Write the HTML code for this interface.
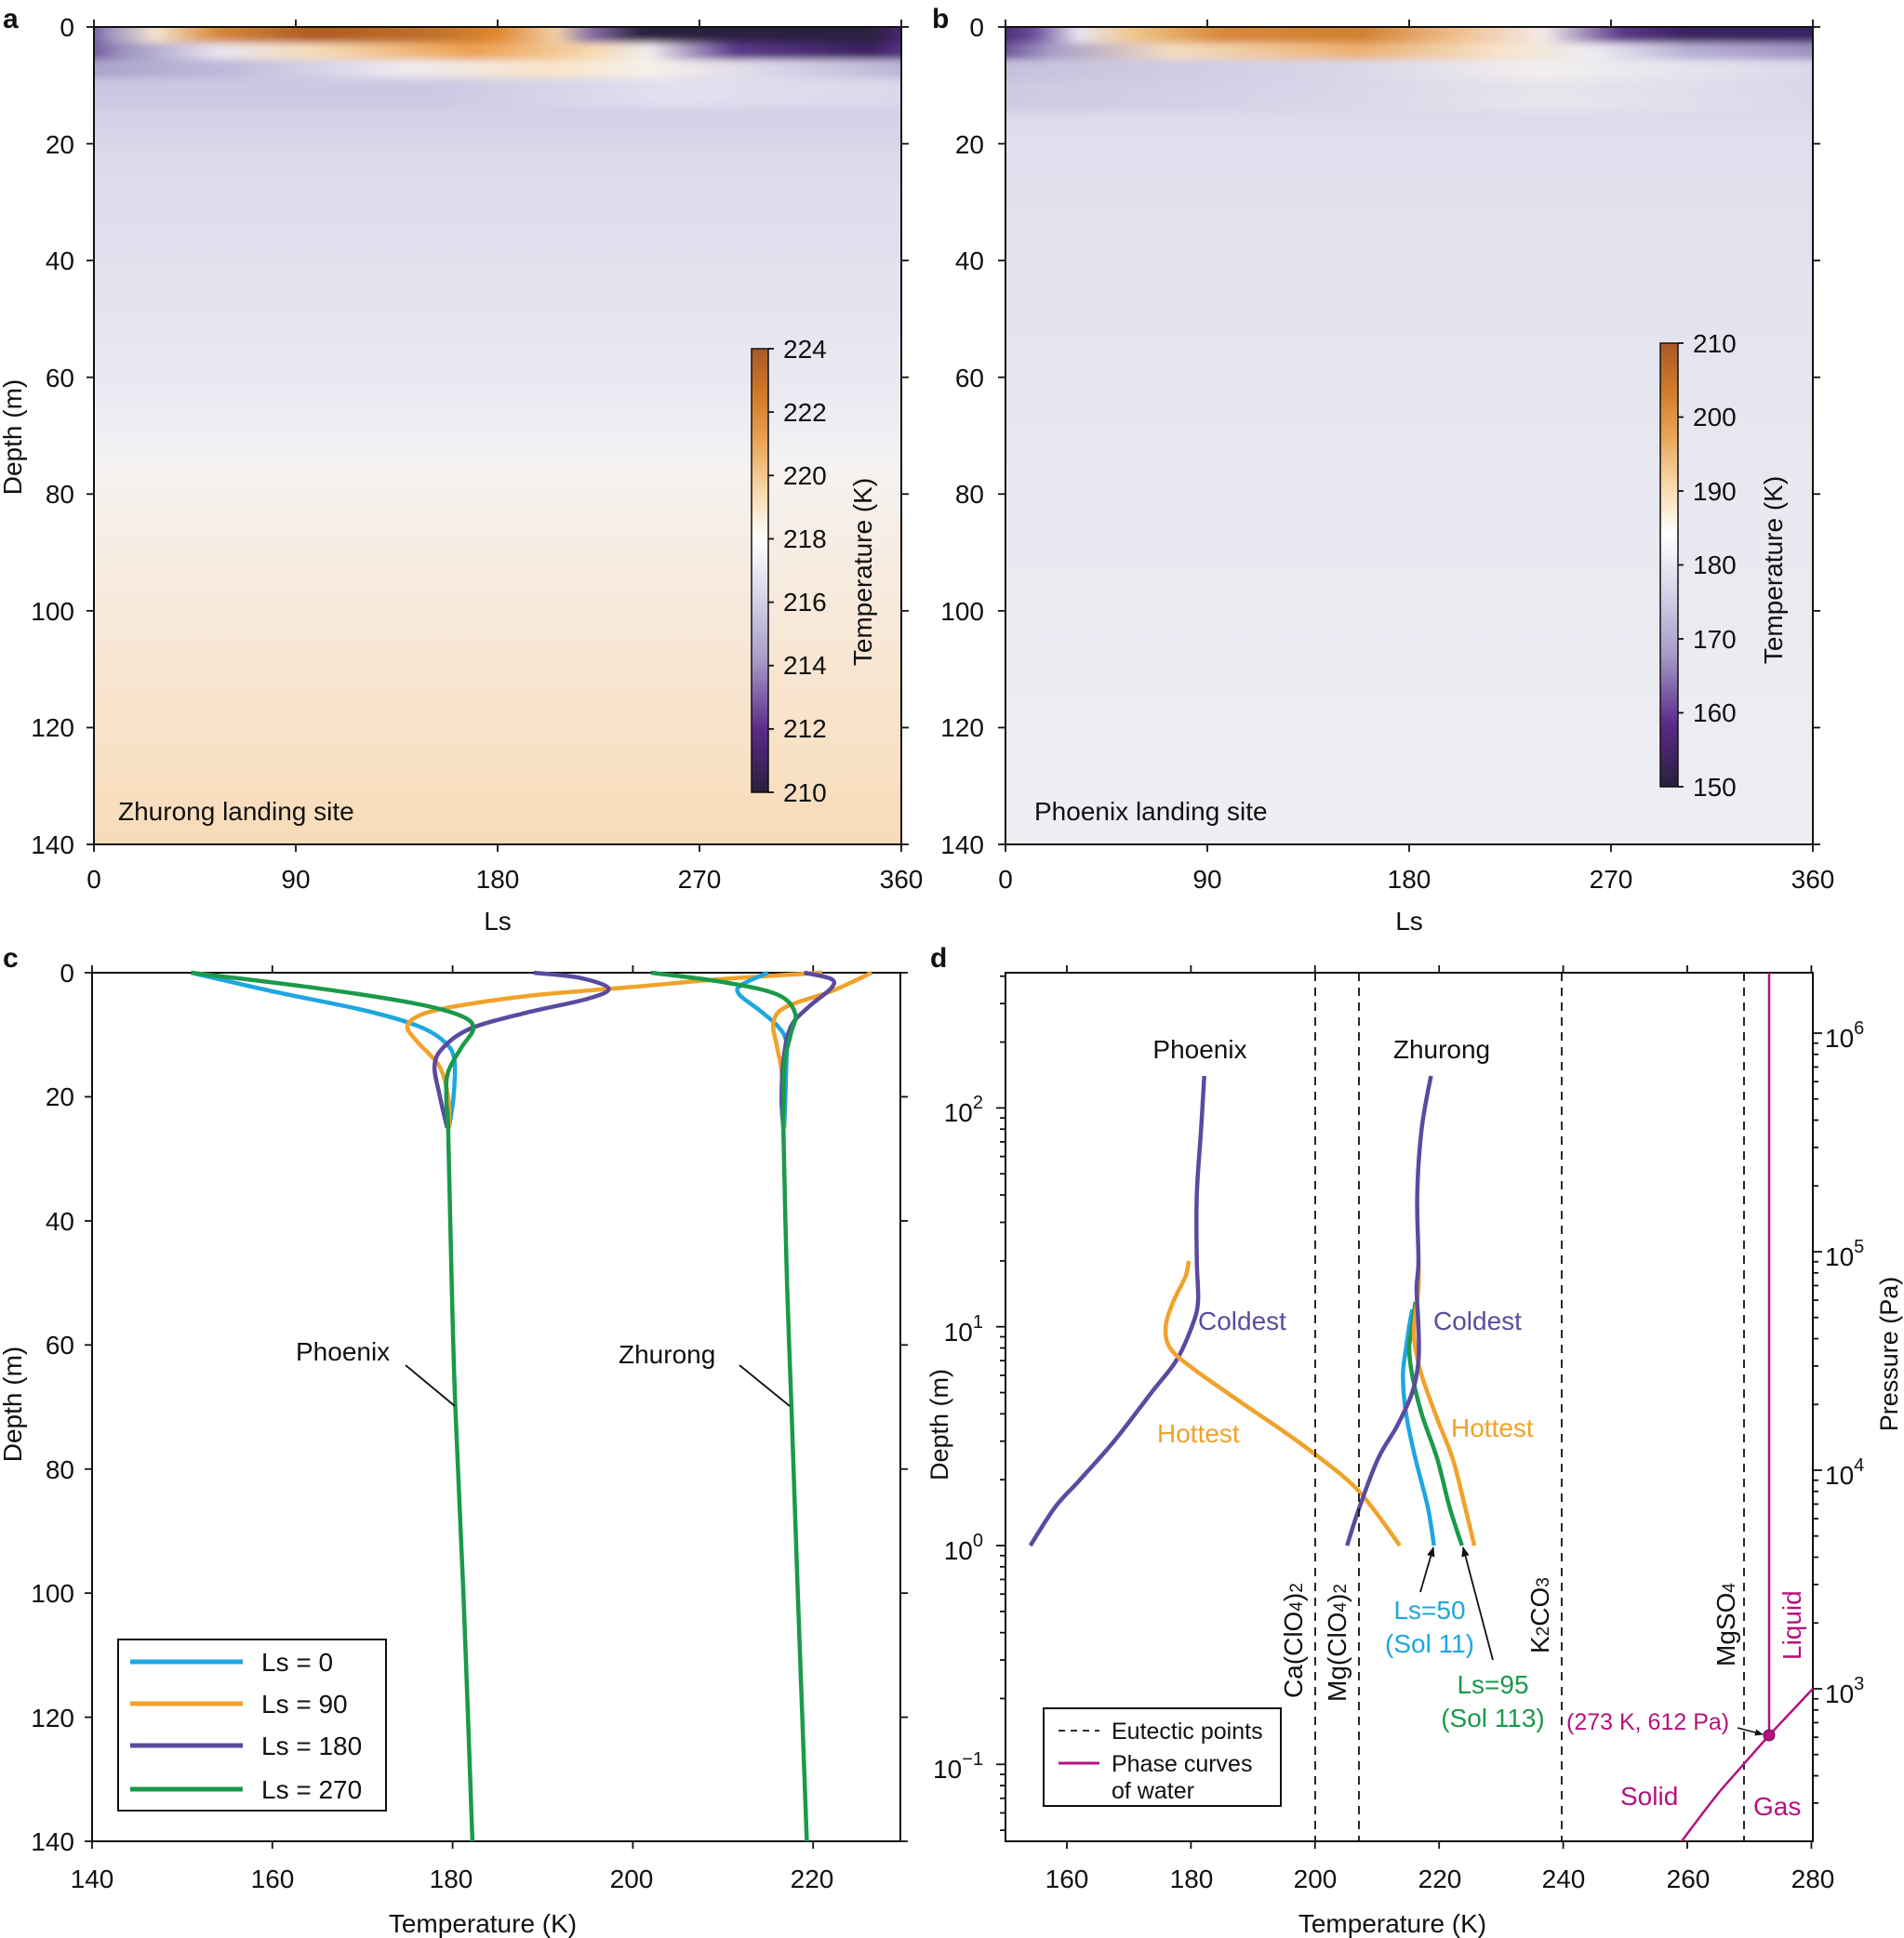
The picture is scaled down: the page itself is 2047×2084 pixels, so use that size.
<!DOCTYPE html>
<html><head><meta charset="utf-8"><style>
html,body{margin:0;padding:0;background:#fff;}
svg{display:block;font-family:"Liberation Sans",Arial,sans-serif;}
text{font-size:28px;fill:#111;}
</style></head><body>
<svg id="s" width="2047" height="2084" viewBox="0 0 2047 2084" xmlns="http://www.w3.org/2000/svg">
<defs>
<clipPath id="ca"><rect x="101" y="29" width="868" height="879"/></clipPath>
<clipPath id="cb"><rect x="1081" y="29" width="868" height="879"/></clipPath>
<clipPath id="cd"><rect x="1081" y="1046" width="868" height="934"/></clipPath>
<filter id="bl" x="-5%" y="-50%" width="110%" height="200%"><feGaussianBlur stdDeviation="5 4"/></filter>
<linearGradient id="bga" x1="0" y1="0" x2="0" y2="1">
<stop offset="0" stop-color="#c8c4e0"/><stop offset="0.1" stop-color="#d2d0e6"/><stop offset="0.16" stop-color="#dadaeb"/><stop offset="0.3" stop-color="#e2e2ef"/><stop offset="0.45" stop-color="#eaeaf2"/><stop offset="0.54" stop-color="#f5f2f1"/><stop offset="0.65" stop-color="#f7ece2"/><stop offset="0.8" stop-color="#f8e5d0"/><stop offset="1" stop-color="#f8dcb8"/></linearGradient>
<linearGradient id="bgb" x1="0" y1="0" x2="0" y2="1">
<stop offset="0" stop-color="#d0cce4"/><stop offset="0.15" stop-color="#e0e0ee"/><stop offset="0.5" stop-color="#e7e7f0"/><stop offset="1" stop-color="#eeeef3"/></linearGradient>
<linearGradient id="a1"><stop offset="0" stop-color="#4a2a7a"/><stop offset="0.04" stop-color="#9a90c0"/><stop offset="0.095" stop-color="#f4e4d0"/><stop offset="0.17" stop-color="#d8883a"/><stop offset="0.28" stop-color="#b05a22"/><stop offset="0.42" stop-color="#c0702a"/><stop offset="0.5" stop-color="#e08830"/><stop offset="0.57" stop-color="#f0d0a8"/><stop offset="0.61" stop-color="#8a70a8"/><stop offset="0.67" stop-color="#2a2040"/><stop offset="0.94" stop-color="#2a2040"/><stop offset="1" stop-color="#5a2a8a"/></linearGradient>
<linearGradient id="a2"><stop offset="0" stop-color="#5a3a8a"/><stop offset="0.055" stop-color="#9a90bc"/><stop offset="0.17" stop-color="#e8e4f0"/><stop offset="0.28" stop-color="#f6dcb8"/><stop offset="0.47" stop-color="#eca050"/><stop offset="0.61" stop-color="#f6d8b0"/><stop offset="0.68" stop-color="#f0ecf0"/><stop offset="0.78" stop-color="#5a3a8a"/><stop offset="0.94" stop-color="#3a2060"/><stop offset="1" stop-color="#6a3a98"/></linearGradient>
<linearGradient id="a3"><stop offset="0" stop-color="#a8a0c8"/><stop offset="0.19" stop-color="#c0bcdc"/><stop offset="0.39" stop-color="#eeeaf0"/><stop offset="0.56" stop-color="#f8e4c8"/><stop offset="0.68" stop-color="#f6f0ea"/><stop offset="0.83" stop-color="#d8d4e8"/><stop offset="1" stop-color="#b8b0d4"/></linearGradient>
<linearGradient id="a4"><stop offset="0" stop-color="#c8c4e0"/><stop offset="0.42" stop-color="#c8c6e0"/><stop offset="0.7" stop-color="#e8e8f2"/><stop offset="1" stop-color="#dcdcec"/></linearGradient>
<linearGradient id="b1"><stop offset="0" stop-color="#3a1f60"/><stop offset="0.055" stop-color="#6a4a98"/><stop offset="0.11" stop-color="#e8e4f0"/><stop offset="0.17" stop-color="#f0c890"/><stop offset="0.28" stop-color="#d88838"/><stop offset="0.44" stop-color="#d08030"/><stop offset="0.56" stop-color="#f0c090"/><stop offset="0.66" stop-color="#f4eaea"/><stop offset="0.75" stop-color="#5a3a8a"/><stop offset="0.83" stop-color="#3a2060"/><stop offset="1" stop-color="#3a2060"/></linearGradient>
<linearGradient id="b2"><stop offset="0" stop-color="#5a3a8a"/><stop offset="0.08" stop-color="#a8a0c8"/><stop offset="0.22" stop-color="#f4dcc0"/><stop offset="0.44" stop-color="#ecb070"/><stop offset="0.61" stop-color="#f6e4cc"/><stop offset="0.72" stop-color="#ecebf2"/><stop offset="0.83" stop-color="#b8b0d4"/><stop offset="1" stop-color="#9a8cc0"/></linearGradient>
<linearGradient id="b3"><stop offset="0" stop-color="#c4c0dc"/><stop offset="0.42" stop-color="#d8d6e8"/><stop offset="0.66" stop-color="#f2eeee"/><stop offset="0.83" stop-color="#e4e4ee"/><stop offset="1" stop-color="#d8d6e8"/></linearGradient>
<linearGradient id="cba" x1="0" y1="1" x2="0" y2="0"><stop offset="0" stop-color="#2a1f3d"/><stop offset="0.14" stop-color="#5a2a8a"/><stop offset="0.3" stop-color="#a89cc8"/><stop offset="0.45" stop-color="#d8d8ea"/><stop offset="0.57" stop-color="#ffffff"/><stop offset="0.68" stop-color="#f8d8a8"/><stop offset="0.8" stop-color="#e8a050"/><stop offset="0.9" stop-color="#d07828"/><stop offset="1" stop-color="#a85a28"/></linearGradient>
<marker id="ar" viewBox="0 0 10 10" refX="9" refY="5" markerWidth="6" markerHeight="6" orient="auto"><path d="M0,1 L10,5 L0,9 z" fill="#111"/></marker>
</defs>

<!-- Panel a -->
<g clip-path="url(#ca)">
<rect x="101" y="29" width="868" height="879" fill="url(#bga)"/>
<g filter="url(#bl)">
<rect x="80" y="80" width="910" height="35" fill="url(#a4)" opacity="0.7"/>
<rect x="80" y="62" width="910" height="22" fill="url(#a3)"/>
<rect x="80" y="45" width="910" height="19" fill="url(#a2)"/>
<rect x="80" y="20" width="910" height="26" fill="url(#a1)"/>
</g></g>
<rect x="101" y="29" width="868" height="879" fill="none" stroke="#111" stroke-width="2"/>
<rect x="808" y="375" width="18" height="477" fill="url(#cba)" stroke="#111" stroke-width="1.5"/>

<!-- Panel b -->
<g clip-path="url(#cb)">
<rect x="1081" y="29" width="868" height="879" fill="url(#bgb)"/>
<g filter="url(#bl)">
<rect x="1060" y="80" width="910" height="40" fill="url(#b3)" opacity="0.6"/>
<rect x="1060" y="62" width="910" height="24" fill="url(#b3)"/>
<rect x="1060" y="44" width="910" height="20" fill="url(#b2)"/>
<rect x="1060" y="20" width="910" height="26" fill="url(#b1)"/>
</g></g>
<rect x="1081" y="29" width="868" height="879" fill="none" stroke="#111" stroke-width="2"/>
<rect x="1785" y="369" width="19" height="477" fill="url(#cba)" stroke="#111" stroke-width="1.5"/>

<!-- frames c,d -->
<rect x="99" y="1046" width="869" height="934" fill="none" stroke="#111" stroke-width="2"/>
<rect x="1081" y="1046" width="868" height="934" fill="none" stroke="#111" stroke-width="2"/>

<g id="ticks" stroke="#111" stroke-width="1.8"></g>
<g id="curves" fill="none" stroke-width="4.5" stroke-linejoin="round" stroke-linecap="butt"></g>

<text x="3" y="30" style="font-weight:bold;font-size:30px">a</text>
<text x="1002" y="30" style="font-weight:bold;font-size:30px">b</text>
<text x="3" y="1040" style="font-weight:bold;font-size:30px">c</text>
<text x="1000" y="1040" style="font-weight:bold;font-size:30px">d</text>

<g text-anchor="end">
<text x="80" y="39">0</text><text x="80" y="165">20</text><text x="80" y="290">40</text><text x="80" y="416">60</text><text x="80" y="541">80</text><text x="80" y="667">100</text><text x="80" y="792">120</text><text x="80" y="918">140</text>
<text x="1058" y="39">0</text><text x="1058" y="165">20</text><text x="1058" y="290">40</text><text x="1058" y="416">60</text><text x="1058" y="541">80</text><text x="1058" y="667">100</text><text x="1058" y="792">120</text><text x="1058" y="918">140</text>
</g>
<g text-anchor="middle">
<text x="101" y="955">0</text><text x="318" y="955">90</text><text x="535" y="955">180</text><text x="752" y="955">270</text><text x="969" y="955">360</text>
<text x="535" y="1000">Ls</text>
<text x="1081" y="955">0</text><text x="1298" y="955">90</text><text x="1515" y="955">180</text><text x="1732" y="955">270</text><text x="1949" y="955">360</text>
<text x="1515" y="1000">Ls</text>
</g>
<text transform="translate(23,470) rotate(-90)" text-anchor="middle">Depth (m)</text>
<text x="127" y="882">Zhurong landing site</text>
<text x="1112" y="882">Phoenix landing site</text>
<g>
<text x="842" y="385">224</text><text x="842" y="453">222</text><text x="842" y="521">220</text><text x="842" y="589">218</text><text x="842" y="657">216</text><text x="842" y="725">214</text><text x="842" y="793">212</text><text x="842" y="862">210</text>
<text x="1820" y="379">210</text><text x="1820" y="458">200</text><text x="1820" y="538">190</text><text x="1820" y="617">180</text><text x="1820" y="697">170</text><text x="1820" y="776">160</text><text x="1820" y="856">150</text>
</g>
<text transform="translate(937,615) rotate(-90)" text-anchor="middle">Temperature (K)</text>
<text transform="translate(1916,613) rotate(-90)" text-anchor="middle">Temperature (K)</text>

<!-- c labels -->
<g text-anchor="end">
<text x="80" y="1056">0</text><text x="80" y="1189">20</text><text x="80" y="1323">40</text><text x="80" y="1456">60</text><text x="80" y="1590">80</text><text x="80" y="1723">100</text><text x="80" y="1857">120</text><text x="80" y="1990">140</text>
</g>
<g text-anchor="middle">
<text x="99" y="2030">140</text><text x="293" y="2030">160</text><text x="485" y="2030">180</text><text x="679" y="2030">200</text><text x="873" y="2030">220</text>
<text x="519" y="2078">Temperature (K)</text>
</g>
<text transform="translate(23,1510) rotate(-90)" text-anchor="middle">Depth (m)</text>
<text x="318" y="1463">Phoenix</text>
<text x="665" y="1466">Zhurong</text>
<line x1="436" y1="1468" x2="489" y2="1512" stroke="#111" stroke-width="1.8"/>
<line x1="795" y1="1468" x2="849" y2="1512" stroke="#111" stroke-width="1.8"/>
<rect x="127" y="1763" width="288" height="184" fill="#fff" stroke="#111" stroke-width="2"/>
<g stroke-width="5">
<line x1="140" y1="1787" x2="261" y2="1787" stroke="#1ea6e0"/>
<line x1="140" y1="1832" x2="261" y2="1832" stroke="#f0a22a"/>
<line x1="140" y1="1877" x2="261" y2="1877" stroke="#5b4aa0"/>
<line x1="140" y1="1924" x2="261" y2="1924" stroke="#1a9a4a"/>
</g>
<text x="281" y="1797">Ls = 0</text><text x="281" y="1842">Ls = 90</text><text x="281" y="1887">Ls = 180</text><text x="281" y="1934">Ls = 270</text>

<!-- d -->
<g stroke="#111" stroke-width="1.8" stroke-dasharray="9 7">
<line x1="1414" y1="1046" x2="1414" y2="1980"/>
<line x1="1461" y1="1046" x2="1461" y2="1980"/>
<line x1="1679" y1="1046" x2="1679" y2="1980"/>
<line x1="1875" y1="1046" x2="1875" y2="1980"/>
</g>
<g clip-path="url(#cd)" stroke="#b5117e" stroke-width="2.5" fill="none">
<line x1="1902" y1="1046" x2="1902" y2="1866"/>
<path d="M1808,1980 Q1830,1950 1850,1925 L1902,1866 L1949,1816"/>
</g>
<circle cx="1902" cy="1866" r="6" fill="#b5117e" stroke="#6a0a4a" stroke-width="1"/>
<g text-anchor="middle">
<text x="1147" y="2030">160</text><text x="1281" y="2030">180</text><text x="1414" y="2030">200</text><text x="1548" y="2030">220</text><text x="1681" y="2030">240</text><text x="1815" y="2030">260</text><text x="1949" y="2030">280</text>
<text x="1497" y="2078">Temperature (K)</text>
<text x="1290" y="1138">Phoenix</text><text x="1550" y="1138">Zhurong</text>
</g>
<g text-anchor="end">
<text x="1057" y="1206">10<tspan dy="-14" font-size="20">2</tspan></text>
<text x="1057" y="1442">10<tspan dy="-14" font-size="20">1</tspan></text>
<text x="1057" y="1677">10<tspan dy="-14" font-size="20">0</tspan></text>
<text x="1057" y="1912">10<tspan dy="-14" font-size="20">−1</tspan></text>
</g>
<text x="1962" y="1126">10<tspan dy="-14" font-size="20">6</tspan></text>
<text x="1962" y="1361">10<tspan dy="-14" font-size="20">5</tspan></text>
<text x="1962" y="1596">10<tspan dy="-14" font-size="20">4</tspan></text>
<text x="1962" y="1831">10<tspan dy="-14" font-size="20">3</tspan></text>
<text transform="translate(1019,1532) rotate(-90)" text-anchor="middle" style="font-size:27px">Depth (m)</text>
<text transform="translate(2040,1456) rotate(-90)" text-anchor="middle" style="font-size:27px">Pressure (Pa)</text>
<text x="1288" y="1430" style="fill:#5b4aa0">Coldest</text>
<text x="1541" y="1430" style="fill:#5b4aa0">Coldest</text>
<text x="1244" y="1551" style="fill:#f0a22a">Hottest</text>
<text x="1560" y="1545" style="fill:#f0a22a">Hottest</text>
<g text-anchor="middle" style="font-size:28px">
<text x="1537" y="1741" style="fill:#1ea6e0">Ls=50</text>
<text x="1537" y="1777" style="fill:#1ea6e0">(Sol 11)</text>
<text x="1605" y="1821" style="fill:#1a9a4a">Ls=95</text>
<text x="1605" y="1857" style="fill:#1a9a4a">(Sol 113)</text>
</g>
<line x1="1527" y1="1712" x2="1541" y2="1664" stroke="#111" stroke-width="1.8" marker-end="url(#ar)"/>
<line x1="1605" y1="1785" x2="1573" y2="1664" stroke="#111" stroke-width="1.8" marker-end="url(#ar)"/>
<text transform="translate(1400,1826) rotate(-90)" style="font-size:28px">Ca(ClO<tspan font-size="19">4</tspan>)<tspan font-size="19">2</tspan></text>
<text transform="translate(1447,1830) rotate(-90)" style="font-size:28px">Mg(ClO<tspan font-size="19">4</tspan>)<tspan font-size="19">2</tspan></text>
<text transform="translate(1665,1778) rotate(-90)" style="font-size:28px">K<tspan font-size="19">2</tspan>CO<tspan font-size="19">3</tspan></text>
<text transform="translate(1865,1792) rotate(-90)" style="font-size:28px">MgSO<tspan font-size="19">4</tspan></text>
<text transform="translate(1936,1785) rotate(-90)" style="font-size:28px;fill:#b5117e">Liquid</text>
<text x="1684" y="1860" style="font-size:25px;fill:#b5117e">(273 K, 612 Pa)</text>
<line x1="1868" y1="1858" x2="1895" y2="1865" stroke="#111" stroke-width="1.5" marker-end="url(#ar)"/>
<text x="1742" y="1941" style="fill:#b5117e">Solid</text>
<text x="1885" y="1952" style="fill:#b5117e">Gas</text>
<rect x="1122" y="1837" width="255" height="105" fill="#fff" stroke="#111" stroke-width="2"/>
<line x1="1138" y1="1861" x2="1182" y2="1861" stroke="#111" stroke-width="1.8" stroke-dasharray="7 6"/>
<line x1="1138" y1="1896" x2="1182" y2="1896" stroke="#b5117e" stroke-width="3"/>
<text x="1195" y="1870" style="font-size:25px">Eutectic points</text>
<text x="1195" y="1905" style="font-size:25px">Phase curves</text>
<text x="1195" y="1934" style="font-size:25px">of water</text>
</svg>
<script>
(function(){
var NS="http://www.w3.org/2000/svg";
var T=document.getElementById("ticks"),C=document.getElementById("curves");
function ln(x1,y1,x2,y2){var l=document.createElementNS(NS,"line");l.setAttribute("x1",x1);l.setAttribute("y1",y1);l.setAttribute("x2",x2);l.setAttribute("y2",y2);T.appendChild(l);}
var i,y,x;
[[101,969],[1081,1949]].forEach(function(b){
 for(i=0;i<=7;i++){y=29+i*879/7;ln(b[0]-8,y,b[0],y);ln(b[1],y,b[1]+8,y);}
 for(i=0;i<=4;i++){x=b[0]+i*(b[1]-b[0])/4;ln(x,908,x,916);ln(x,29,x,21);}
});
for(i=0;i<=7;i++){ln(826,375+i*477/7,832,375+i*477/7);}
for(i=0;i<=6;i++){ln(1804,369+i*477/6,1810,369+i*477/6);}
for(i=0;i<=7;i++){y=1046+i*934/7;ln(91,y,99,y);ln(968,y,976,y);}
for(i=0;i<=4;i++){x=99+i*193.8;ln(x,1980,x,1988);ln(x,1046,x,1038);}
for(i=0;i<=6;i++){x=1147+i*133.4;ln(x,1980,x,1988);ln(x,1046,x,1038);}
for(var dec=-2;dec<=2;dec++){for(var m=1;m<10;m++){var v=Math.log10(m)+dec;y=1662-v*235.3;if(y>=1046&&y<=1980){ln(1081-(m==1?10:6),y,1081,y);}}}
for(var dec=2;dec<=6;dec++){for(var m=1;m<10;m++){var v=Math.log10(m)+dec;y=1816-(v-3)*235;if(y>=1046&&y<=1980){ln(1949,y,1949+(m==1?10:6),y);}}}
function cr(p){var d="M"+p[0][0].toFixed(1)+","+p[0][1].toFixed(1);for(var k=0;k<p.length-1;k++){var p0=p[k-1]||p[k],p1=p[k],p2=p[k+1],p3=p[k+2]||p2;d+=" C"+(p1[0]+(p2[0]-p0[0])/6).toFixed(1)+","+(p1[1]+(p2[1]-p0[1])/6).toFixed(1)+" "+(p2[0]-(p3[0]-p1[0])/6).toFixed(1)+","+(p2[1]-(p3[1]-p1[1])/6).toFixed(1)+" "+p2[0].toFixed(1)+","+p2[1].toFixed(1);}return d;}
function add(pts,col,fx,fy){var p=document.createElementNS(NS,"path");p.setAttribute("d",cr(pts.map(function(q){return [fx(q[0]),fy(q[1])];})));p.setAttribute("stroke",col);C.appendChild(p);}
var cx=function(t){return 99+(t-140)*9.69;},cy=function(d){return 1046+d*6.671;};
var B="#1ea6e0",O="#f0a22a",P="#5b4aa0",G="#1a9a4a";
var comP=[[179.5,25],[179.9,50],[180.3,70],[181.2,100],[182.2,140]];
var comZ=[[216.7,25],[217.1,50],[217.6,70],[218.3,100],[219.3,140]];
add([[151,0],[160,3],[170,6],[176,8.5],[179,11],[180.2,14],[180.1,20],[179.6,25]],B,cx,cy);
add([[221,0],[210,1],[200,2.3],[190,3.5],[182,5],[177,6.5],[175,8.5],[176,11],[178.5,15],[179.5,20],[179.6,25]],O,cx,cy);
add([[189,0],[194,0.8],[197.3,2.5],[195,4.2],[188,6.5],[182,9],[179,12],[178,15],[178.6,20],[179.4,25]],P,cx,cy);
add([[215,0],[212,2],[211.8,3.5],[214,6],[216,8.5],[217,11],[217,16],[216.8,25]],B,cx,cy);
add([[226.5,0],[222,3],[217,5.5],[215.6,8],[216,12],[216.5,16],[216.8,25]],O,cx,cy);
add([[219,0],[222,1],[222,2.5],[219.5,5.5],[217.6,8.5],[216.8,13],[216.5,20],[216.7,25]],P,cx,cy);
add([[151,0],[165,2.5],[176,5],[181,7],[182.3,9],[181,12],[179.5,16],[179.3,20],[179.5,25]],G,cx,cy);
add([[202,0],[210,1.5],[216,3.5],[218,6.5],[217.5,10],[216.8,15],[216.7,25]],G,cx,cy);
add([[179.3,22]].concat(comP),G,cx,cy);
add([[216.7,22]].concat(comZ),G,cx,cy);
var dx=function(t){return 1081+(t-150)*6.677;},dy=function(d){return 1662-Math.log10(d)*235.3;};
add([[154,1],[158,1.5],[162,2],[167.5,3],[173.5,5],[177.5,7],[180,10],[181,13],[180.8,20],[180.8,40],[181.5,80],[182,140]],P,dx,dy);
add([[213.5,1],[209,1.5],[205,2],[197,3],[188,4.5],[180,6.5],[176.5,8],[175.8,10],[177,13],[179,17],[179.5,20]],O,dx,dy);
add([[219,1],[218,1.5],[216,2.5],[214.5,4],[214,6],[214.5,8],[215,10],[215.5,12]],B,dx,dy);
add([[223.5,1],[221.5,1.5],[219.5,2.5],[217,4],[215.5,6],[215,8],[215.5,10],[216,13]],G,dx,dy);
add([[225.5,1],[224,1.5],[222,2.5],[219.5,3.8],[217,6],[216,8],[215.8,10],[216.5,15],[216.5,20]],O,dx,dy);
add([[205,1],[207,1.5],[210,2.5],[213,3.5],[215.5,5],[216.5,7],[216.5,10],[216.2,15],[216.5,20],[216.3,40],[217,80],[218.5,140]],P,dx,dy);
})();
</script>
</body></html>
